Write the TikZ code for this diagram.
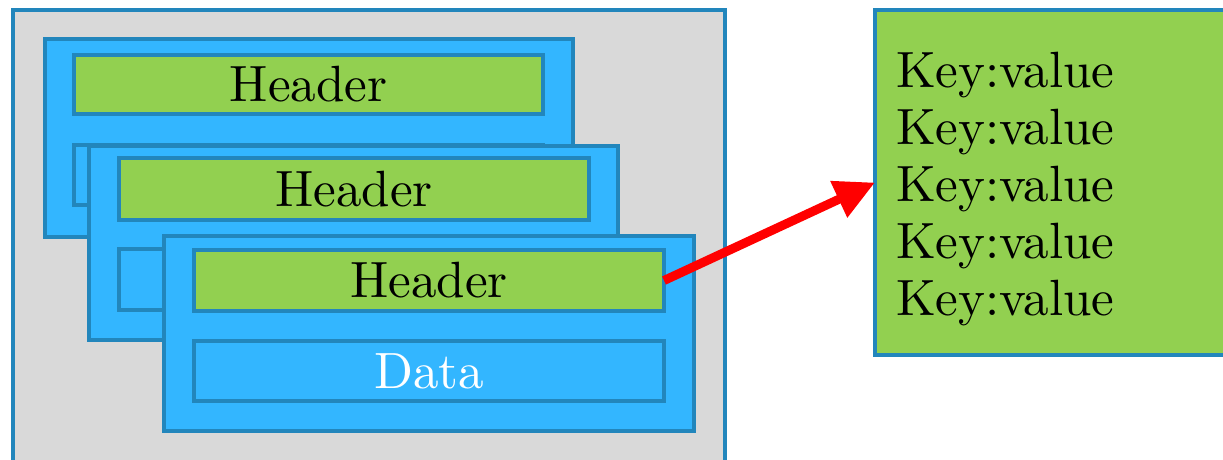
\documentclass[tikz,border=0pt]{standalone}
\usetikzlibrary{arrows.meta}
\definecolor{edge}{RGB}{34,134,188}
\definecolor{cyanfill}{RGB}{51,182,255}
\definecolor{grn}{RGB}{146,208,80}
\definecolor{bg}{RGB}{217,217,217}
\newcommand{\bigtxt}[1]{\scalebox{5.1}{\fontsize{10}{12}\selectfont #1}}
\tikzset{
 box/.style={draw=edge, line width=4.5pt, anchor=north west, inner sep=0pt, outer sep=0pt},
 card/.style={box, fill=cyanfill},
 hdr/.style={box, fill=grn},
 dat/.style={box, fill=cyanfill, text=white},
 kvline/.style={anchor=base west, inner sep=0pt, outer sep=0pt},
 link/.style={draw=red, line width=9pt, -{Triangle[width=38pt,length=40pt]}},
}
\begin{document}
\begin{tikzpicture}[x=1pt,y=-1pt]
\useasboundingbox[clip] (0,0) rectangle (1223,459);
\node[box, fill=bg, line width=4pt, minimum width=712pt, minimum height=480pt] (outer) at (13,10) {};
% card 1
\node[card, minimum width=528pt, minimum height=198pt] (c1) at (45,39) {};
\node[hdr, minimum width=469pt, minimum height=59pt] (h1) at (74,55) {\bigtxt{Header}};
\node[dat, minimum width=469pt, minimum height=60pt] (d1) at (74,145) {};
% card 2
\node[card, minimum width=529pt, minimum height=194pt] (c2) at (89,146) {};
\node[hdr, minimum width=470pt, minimum height=62pt] (h2) at (119,158) {\bigtxt{Header}};
\node[dat, minimum width=470pt, minimum height=61pt] (d2) at (119,249) {};
% card 3
\node[card, minimum width=530pt, minimum height=195pt] (c3) at (164,236) {};
\node[hdr, minimum width=470pt, minimum height=61pt] (h3) at (194,250) {\bigtxt{Header}};
\node[dat, minimum width=470pt, minimum height=60pt] (d3) at (194,341) {\bigtxt{Data}};
% key-value box
\node[hdr, minimum width=370pt, minimum height=345pt] (kvbox) at (875,10) {};
\node[kvline] (kv1) at (896,87) {\bigtxt{Key:value}};
\node[kvline] (kv2) at (896,144) {\bigtxt{Key:value}};
\node[kvline] (kv3) at (896,201) {\bigtxt{Key:value}};
\node[kvline] (kv4) at (896,258) {\bigtxt{Key:value}};
\node[kvline] (kv5) at (896,315) {\bigtxt{Key:value}};
\draw[link] (h3.east) -- (kvbox.west);
\end{tikzpicture}
\end{document}
